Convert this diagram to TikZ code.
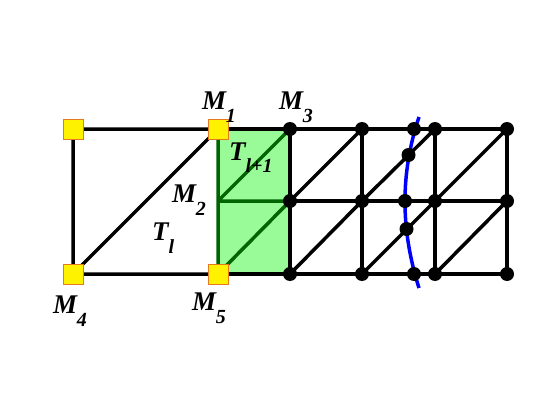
\documentclass[tikz,border=0pt]{standalone}
\usepackage{fontspec}
\setmainfont{Liberation Serif}
\definecolor{patchfill}{RGB}{152,251,152}
\definecolor{patchline}{RGB}{0,100,0}
\definecolor{sqedge}{RGB}{230,120,30}
\newcommand{\mlab}[2]{\textbf{\textit{#1}}\kern-1pt\raisebox{-13pt}{\fontsize{20}{20}\selectfont\textbf{\textit{#2}}}}

\begin{document}
\begin{tikzpicture}[x=1pt,y=-1pt,
  dot/.style={circle,fill=black,minimum size=14pt,inner sep=0pt},
  sq/.style={rectangle,fill=yellow,draw=sqedge,line width=1pt,minimum size=20pt,inner sep=0pt},
  lab/.style={anchor=base west,inner sep=0pt,font=\fontsize{27}{27}\selectfont},
  mesh/.style={line width=3.5pt,line cap=round},
  inner/.style={mesh,draw=patchline}]
\useasboundingbox (0,0) rectangle (560,420);
% corner points of the coarse cell
\coordinate (M0) at (73,129);
\coordinate (M1) at (218,129);
\coordinate (M2) at (218,201);
\coordinate (M4) at (73,274);
\coordinate (M5) at (218,274);
% fine grid
\foreach \c [count=\i] in {290,362,435,507}
  \foreach \r [count=\j] in {129,201,274}
    \coordinate (g-\j-\i) at (\c,\r);
% interface curve
\coordinate (b-top) at (419,117);
\coordinate (b-bot) at (419,288);
\foreach \p [count=\k] in {{414,129},{408.5,155},{405,201},{406.5,229},{414,274}}
  \coordinate (c-\k) at (\p);

\fill[patchfill] (M1) rectangle (g-3-1);
\draw[mesh] (M0) -- (M1) (M0) -- (M4) (M4) -- (M5) (M4) -- (M1);
\draw[inner] (M1) -- (M5) (M2) -- (g-2-1) (M2) -- (g-1-1) (M5) -- (g-2-1);
\draw[mesh] (M1) -- (g-1-4) (M5) -- (g-3-4) (g-2-1) -- (g-2-4);
\foreach \i in {1,...,4}
  \draw[mesh] (g-1-\i) -- (g-3-\i);
\foreach \a/\b in {1/2,2/3,3/4}
  \foreach \j/\m in {1/2,2/3}
    \draw[mesh] (g-\m-\a) -- (g-\j-\b);
\draw[blue,line width=3.5pt] (b-top) .. controls (400.3,173) and (400.3,229) .. (b-bot);

\foreach \i in {1,...,4}
  \foreach \j in {1,2,3}
    \node[dot] (n-\j-\i) at (g-\j-\i) {};
\foreach \k in {1,...,5}
  \node[dot] (d-\k) at (c-\k) {};
\foreach \s in {M0,M1,M4,M5}
  \node[sq] (s\s) at (\s) {};

\node[lab] (l1) at (202,110) {\mlab{M}{1}};
\node[lab] (l2) at (172,202) {\mlab{M}{2}};
\node[lab] (l3) at (279,110) {\mlab{M}{3}};
\node[lab] (l4) at (53,313) {\mlab{M}{4}};
\node[lab] (l5) at (192,310) {\mlab{M}{5}};
\node[lab] (tl) at (152,240) {\mlab{T}{l}};
\node[lab] (tl1) at (229,160) {\mlab{T}{l+1}};
\end{tikzpicture}
\end{document}
